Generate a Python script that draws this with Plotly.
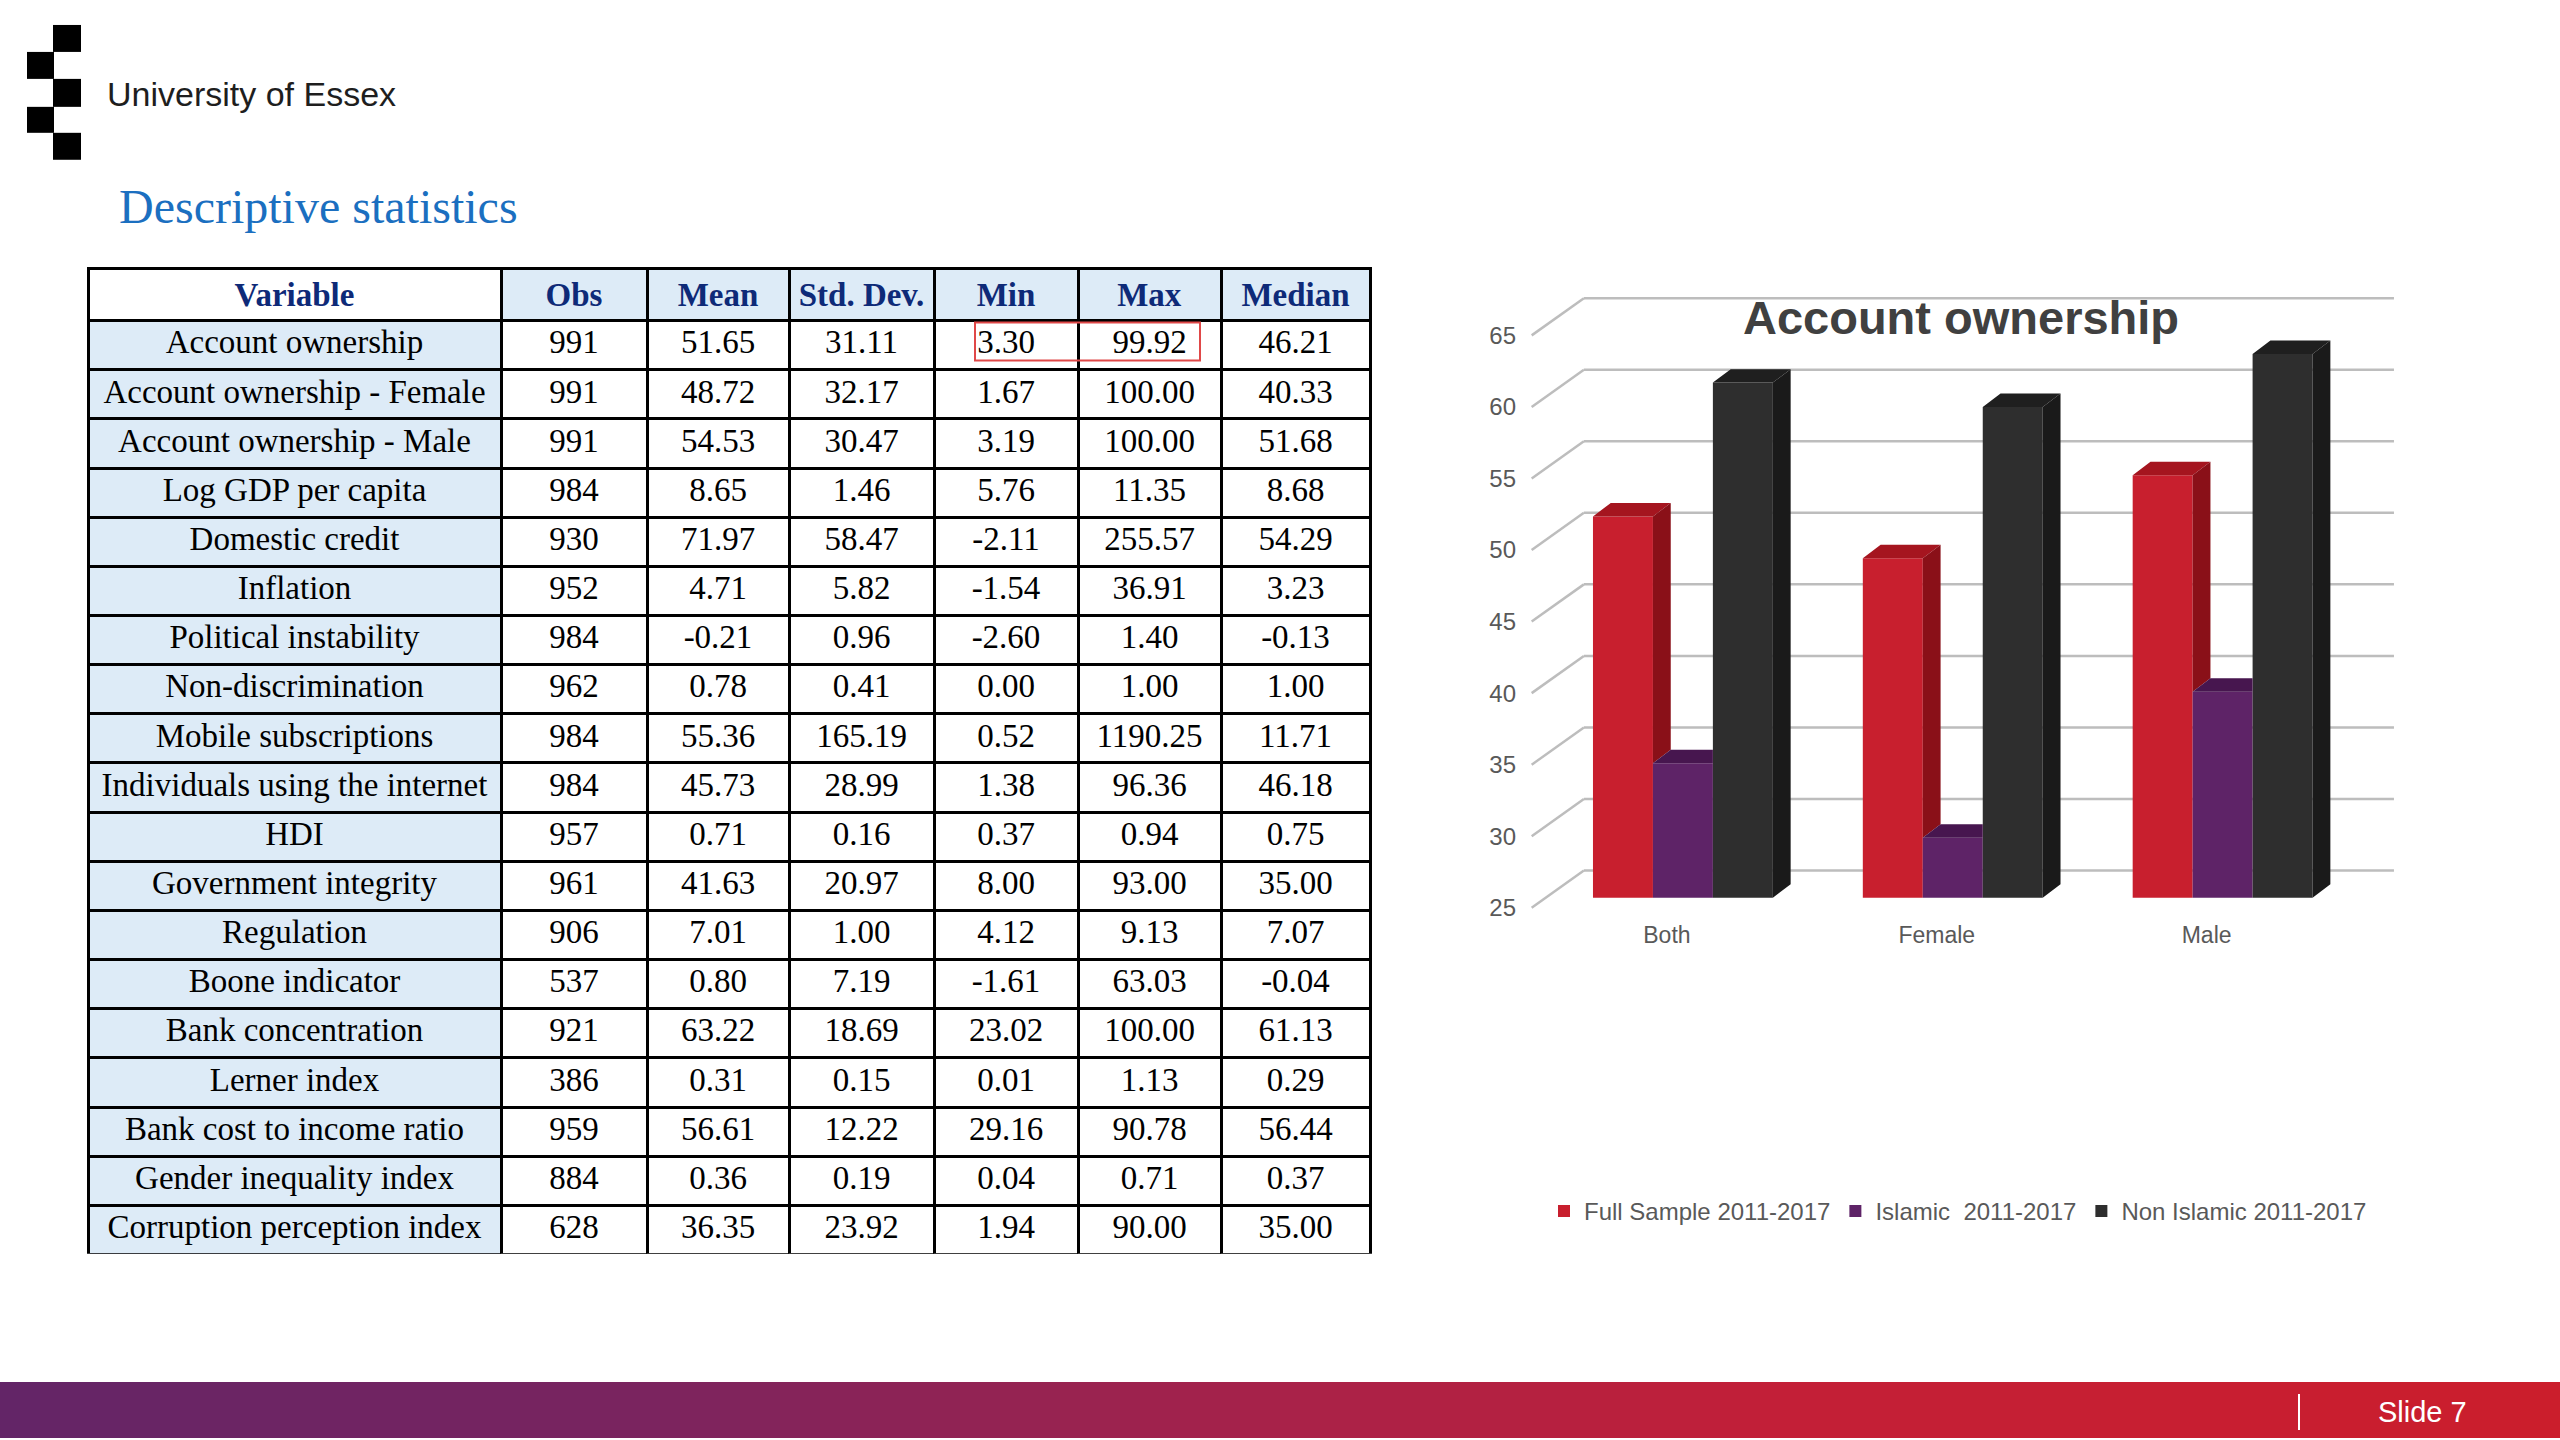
import plotly.graph_objects as go

# Descriptive statistics table
variables = ['Account ownership', 'Account ownership - Female', 'Account ownership - Male',
             'Log GDP per capita', 'Domestic credit', 'Inflation', 'Political instability',
             'Non-discrimination', 'Mobile subscriptions', 'Individuals using the internet',
             'HDI', 'Government integrity', 'Regulation', 'Boone indicator',
             'Bank concentration', 'Lerner index', 'Bank cost to income ratio',
             'Gender inequality index', 'Corruption perception index']
obs = [991, 991, 991, 984, 930, 952, 984, 962, 984, 984, 957, 961, 906, 537, 921, 386, 959, 884, 628]
mean = [51.65, 48.72, 54.53, 8.65, 71.97, 4.71, -0.21, 0.78, 55.36, 45.73, 0.71, 41.63, 7.01, 0.80,
        63.22, 0.31, 56.61, 0.36, 36.35]
std_dev = [31.11, 32.17, 30.47, 1.46, 58.47, 5.82, 0.96, 0.41, 165.19, 28.99, 0.16, 20.97, 1.00, 7.19,
           18.69, 0.15, 12.22, 0.19, 23.92]
mins = [3.30, 1.67, 3.19, 5.76, -2.11, -1.54, -2.60, 0.00, 0.52, 1.38, 0.37, 8.00, 4.12, -1.61,
        23.02, 0.01, 29.16, 0.04, 1.94]
maxs = [99.92, 100.00, 100.00, 11.35, 255.57, 36.91, 1.40, 1.00, 1190.25, 96.36, 0.94, 93.00, 9.13,
        63.03, 100.00, 1.13, 90.78, 0.71, 90.00]
medians = [46.21, 40.33, 51.68, 8.68, 54.29, 3.23, -0.13, 1.00, 11.71, 46.18, 0.75, 35.00, 7.07,
           -0.04, 61.13, 0.29, 56.44, 0.37, 35.00]
headers = ['Variable', 'Obs', 'Mean', 'Std. Dev.', 'Min', 'Max', 'Median']

# Account ownership chart
groups = ['Both', 'Female', 'Male']
series = ['Full Sample 2011-2017', 'Islamic\u00a0 2011-2017', 'Non Islamic 2011-2017']
full_sample = [51.65, 48.72, 54.53]
islamic = [34.4, 29.2, 39.4]
non_islamic = [61.0, 59.3, 63.0]
y_ticks = [25, 30, 35, 40, 45, 50, 55, 60, 65]

W, H = 2560, 1440


def px(x):
    return x / W


def py(y):
    return 1 - y / H


fig = go.Figure()

# ---- table ----
light_blue = '#DDEBF7'
fmt = lambda vals: [f'{v:.2f}' for v in vals]
fig.add_trace(go.Table(
    domain=dict(x=[px(88), px(1370)], y=[py(1256), py(269)]),
    columnwidth=[413, 146, 142, 145, 144, 143, 149],
    header=dict(
        values=['<b>%s</b>' % h.replace(' ', '\u00a0') for h in headers],
        fill_color=['white'] + [light_blue] * 6,
        line=dict(color='black', width=3),
        font=dict(family='Liberation Serif', size=33, color='#0E2A78'),
        align='center', height=49.15),
    cells=dict(
        values=[variables, [str(o) for o in obs], fmt(mean), fmt(std_dev), fmt(mins), fmt(maxs), fmt(medians)],
        fill_color=[light_blue] + ['white'] * 6,
        line=dict(color='black', width=3),
        font=dict(family='Liberation Serif', size=33, color='black'),
        align='center', height=49.15),
))

# ---- pseudo 3D bars ----
w = 0.2222   # bar width
dx = 0.066   # depth offset x
dy = 0.94    # depth offset y
floor = 25
front = ['#C81F2E', '#5E2367', '#2E2E2E']
top = ['#A5151F', '#47164F', '#1F1F1F']
side = ['#8A1018', '#3B1243', '#1A1A1A']
all_vals = [full_sample, islamic, non_islamic]

for k, vals in enumerate(all_vals):
    off = (k - 1.5) * w
    fig.add_trace(go.Bar(
        x=list(range(len(groups))), y=[v - floor for v in vals], base=floor,
        width=w, offset=off, name=series[k], marker=dict(color=front[k], line=dict(width=0)),
        hoverinfo='skip'))

for k, vals in enumerate(all_vals):
    off = (k - 1.5) * w
    nxt = all_vals[k + 1] if k + 1 < len(all_vals) else None
    tx, ty, sx, sy = [], [], [], []
    for i, v in enumerate(vals):
        x0 = i + off
        x1 = x0 + w
        hidden = nxt is not None and nxt[i] >= v + dy
        if hidden:
            tx += [x0, x1, x1, x0 + dx, x0, None]
            ty += [v, v, v + dy, v + dy, v, None]
        else:
            tx += [x0, x1, x1 + dx, x0 + dx, x0, None]
            ty += [v, v, v + dy, v + dy, v, None]
            bottom = floor if nxt is None else max(floor, nxt[i])
            sx += [x1, x1, x1 + dx, x1 + dx, x1, None]
            sy += [bottom, v, v + dy, bottom + dy, bottom, None]
    fig.add_trace(go.Scatter(x=tx, y=ty, fill='toself', fillcolor=top[k], mode='none',
                             showlegend=False, hoverinfo='skip'))
    if sx:
        fig.add_trace(go.Scatter(x=sx, y=sy, fill='toself', fillcolor=side[k], mode='none',
                                 showlegend=False, hoverinfo='skip'))

# back wall and perspective lines
shapes = []
back_off, front_off = 1.9, -0.7
wall_left, wall_right, front_left = -0.367, 2.635, -0.5605
for t in y_ticks:
    shapes.append(dict(type='line', xref='x', yref='y', x0=wall_left, x1=wall_right,
                       y0=t + back_off, y1=t + back_off, layer='below',
                       line=dict(color='#BDBDBD', width=2.5)))
    shapes.append(dict(type='line', xref='x', yref='y', x0=front_left, x1=wall_left,
                       y0=t + front_off, y1=t + back_off, layer='below',
                       line=dict(color='#BDBDBD', width=2.5)))

# red highlight box in the table
shapes.append(dict(type='rect', xref='paper', yref='paper', x0=px(975), x1=px(1200),
                   y0=py(361), y1=py(323), line=dict(color='#E04848', width=2)))

# logo squares
sq_rows = [(25, 52, 'r'), (52, 79, 'l'), (79, 107, 'r'), (107, 133, 'l'), (133, 160, 'r')]
for y0, y1, c in sq_rows:
    x0, x1 = (53, 81) if c == 'r' else (27, 54)
    shapes.append(dict(type='rect', xref='paper', yref='paper', x0=px(x0), x1=px(x1),
                       y0=py(y1), y1=py(y0), fillcolor='black', line=dict(width=0)))

# footer gradient
stops = [(0.0, (99, 37, 103)), (0.25, (122, 36, 95)), (0.5, (168, 34, 73)),
         (0.7, (195, 31, 55)), (1.0, (203, 30, 44))]


def grad(f):
    for (a, ca), (b, cb) in zip(stops[:-1], stops[1:]):
        if a <= f <= b:
            t = (f - a) / (b - a)
            return 'rgb(%d,%d,%d)' % tuple(round(ca[j] + (cb[j] - ca[j]) * t) for j in range(3))
    return 'rgb(203,30,44)'


n_strips = 128
for s in range(n_strips):
    shapes.append(dict(type='rect', xref='paper', yref='paper', x0=s / n_strips, x1=(s + 1) / n_strips + 0.001,
                       y0=0, y1=py(1384), fillcolor=grad((s + 0.5) / n_strips), line=dict(width=0)))
shapes.append(dict(type='line', xref='paper', yref='paper', x0=px(2299), x1=px(2299),
                   y0=py(1432), y1=py(1396), line=dict(color='white', width=2)))

annotations = [
    dict(text='University of Essex', x=px(105), y=py(94), xref='paper', yref='paper',
         xanchor='left', yanchor='middle', showarrow=False,
         font=dict(family='Liberation Sans', size=34, color='#1E1E1E')),
    dict(text='Descriptive statistics', x=px(117), y=py(207), xref='paper', yref='paper',
         xanchor='left', yanchor='middle', showarrow=False,
         font=dict(family='Liberation Serif', size=48, color='#1B6FC0')),
    dict(text='Slide 7', x=px(2422), y=py(1414), xref='paper', yref='paper',
         xanchor='center', yanchor='middle', showarrow=False,
         font=dict(family='Liberation Sans', size=29, color='white')),
]

fig.update_layout(
    width=W, height=H,
    margin=dict(l=0, r=0, t=0, b=0),
    paper_bgcolor='white', plot_bgcolor='white',
    barmode='overlay',
    title=dict(text='<b>Account ownership</b>', x=px(1961), y=py(318), xanchor='center', yanchor='middle',
               xref='container', yref='container',
               font=dict(family='Liberation Sans', size=47, color='#404040')),
    xaxis=dict(domain=[px(1521), px(2438.5)], range=[-0.6, 2.8], tickvals=list(range(len(groups))),
               ticktext=groups, ticklabelshift=-16, showgrid=False, zeroline=False, showline=False,
               ticks='', tickfont=dict(family='Liberation Sans', size=23, color='#595959')),
    yaxis=dict(domain=[py(920.5), py(282.8)], range=[23.5, 68], tickvals=y_ticks,
               ticklabelshift=10, ticklabelstandoff=4, showgrid=False, zeroline=False,
               showline=False, ticks='', tickfont=dict(family='Liberation Sans', size=24, color='#595959')),
    legend=dict(orientation='h', x=px(1544), y=py(1213), xanchor='left', yanchor='middle',
                font=dict(family='Liberation Sans', size=24, color='#595959'),
                bgcolor='rgba(0,0,0,0)'),
    shapes=shapes,
    annotations=annotations,
)

fig.write_html('out.html', config={'displayModeBar': False},
               post_script="document.body.style.margin='0';")
